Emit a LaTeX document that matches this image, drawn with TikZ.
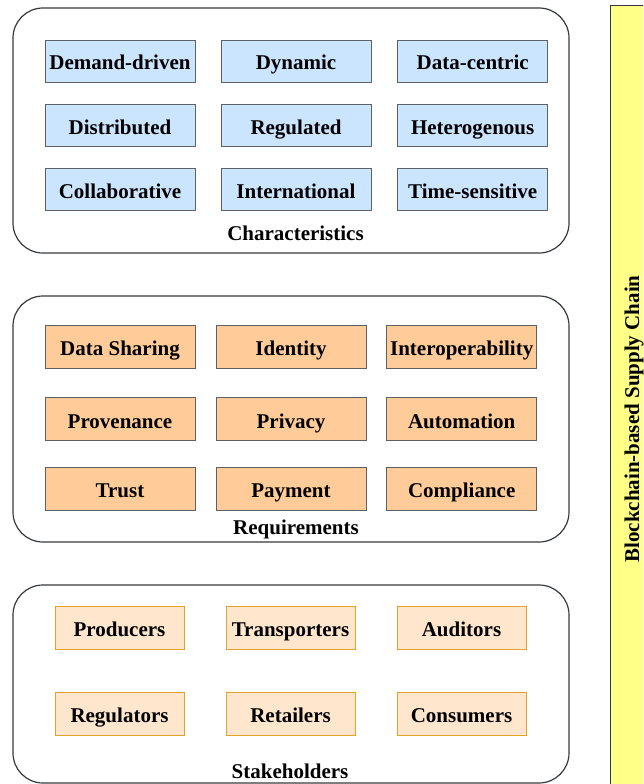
\documentclass[tikz,border=0pt]{standalone}
\usepackage{fontspec}
\setmainfont{Liberation Serif}
\definecolor{bluefill}{HTML}{CCE5FF}
\definecolor{orangefill}{HTML}{FFCC99}
\definecolor{peachfill}{HTML}{FFE6CC}
\definecolor{peachline}{HTML}{E3A32A}
\definecolor{yellowfill}{HTML}{FFFF88}
\definecolor{darkline}{HTML}{36393D}
\tikzset{
  txt/.style={font=\fontsize{21}{25}\selectfont\bfseries, text=black, text height=20pt, text depth=2pt},
  group/.style={draw=darkline, line width=1.2pt, rounded corners=30pt, fill=white, minimum width=556pt, inner sep=0pt},
  charbox/.style={txt, draw=darkline!80, line width=0.8pt, fill=bluefill, minimum width=150pt, minimum height=42pt, inner sep=0pt},
  reqbox/.style={txt, draw=darkline!80, line width=0.8pt, fill=orangefill, minimum width=150pt, minimum height=43pt, inner sep=0pt},
  stakebox/.style={txt, draw=peachline, line width=0.9pt, fill=peachfill, minimum width=129pt, minimum height=43pt, inner sep=0pt},
  grouplabel/.style={txt, inner sep=0pt}
}
\begin{document}
\begin{tikzpicture}[x=1pt,y=-1pt]
\useasboundingbox (0,0) rectangle (643,784);
\clip (0,0) rectangle (643,784);
\fill[white] (0,0) rectangle (643,784);
% side bar
\node[draw=darkline, line width=0.9pt, fill=yellowfill, minimum width=50pt, minimum height=800pt, inner sep=0pt, anchor=north west] (bar) at (610,5) {};
\node[txt, rotate=90, inner sep=0pt] (barlabel) at (630,419) {Blockchain-based Supply Chain};
% containers
\node[group, minimum height=245pt] (chars) at (291,130.5) {};
\node[group, minimum height=246pt] (reqs) at (291,419) {};
\node[group, minimum height=198pt] (stakes) at (291,684) {};
% characteristics
\node[charbox] (c1) at (120,61) {Demand-driven};
\node[charbox] (c2) at (296,61) {Dynamic};
\node[charbox] (c3) at (472.7,61) {Data-centric};
\node[charbox] (c4) at (120,125) {Distributed};
\node[charbox] (c5) at (296,125) {Regulated};
\node[charbox] (c6) at (472.7,125) {Heterogenous};
\node[charbox] (c7) at (120,189.5) {Collaborative};
\node[charbox] (c8) at (296,189.5) {International};
\node[charbox] (c9) at (472.7,189.5) {Time-sensitive};
\node[grouplabel] (charslabel) at (295.5,231) {Characteristics};
% requirements
\node[reqbox] (r1) at (120,346.5) {Data Sharing};
\node[reqbox] (r2) at (291,346.5) {Identity};
\node[reqbox] (r3) at (461.7,346.5) {Interoperability};
\node[reqbox] (r4) at (120,419) {Provenance};
\node[reqbox] (r5) at (291,419) {Privacy};
\node[reqbox] (r6) at (461.7,419) {Automation};
\node[reqbox] (r7) at (120,488.5) {Trust};
\node[reqbox] (r8) at (291,488.5) {Payment};
\node[reqbox] (r9) at (461.7,488.5) {Compliance};
\node[grouplabel] (reqslabel) at (296,525) {Requirements};
% stakeholders
\node[stakebox] (s1) at (119.5,627.5) {Producers};
\node[stakebox] (s2) at (290.5,627.5) {Transporters};
\node[stakebox] (s3) at (461.5,627.5) {Auditors};
\node[stakebox] (s4) at (119.5,713.5) {Regulators};
\node[stakebox] (s5) at (290.5,713.5) {Retailers};
\node[stakebox] (s6) at (461.5,713.5) {Consumers};
\node[grouplabel] (stakeslabel) at (290,769) {Stakeholders};
\end{tikzpicture}
\end{document}
